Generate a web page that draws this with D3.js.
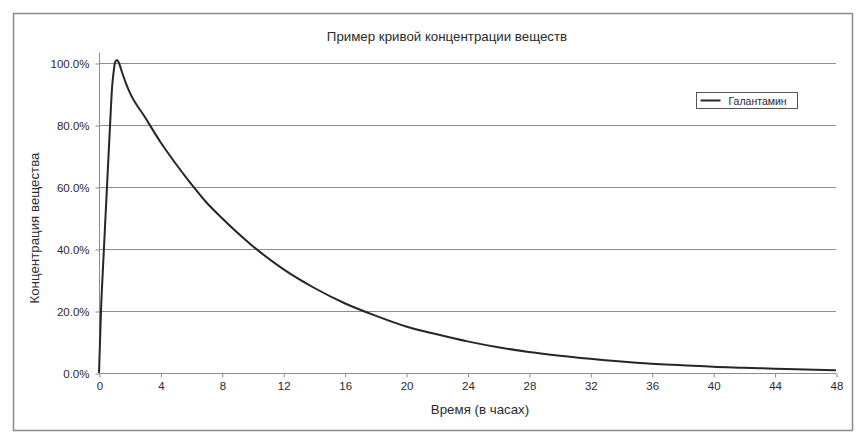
<!DOCTYPE html>
<html>
<head>
<meta charset="utf-8">
<script src="https://cdn.jsdelivr.net/npm/d3@7"></script>
<style>
  body { margin: 0; background: #fff; }
  svg { display: block; font-family: "Liberation Sans", Arial, sans-serif; }
</style>
</head>
<body>
<div id="chart"></div>
<script>
// data
let hours = [0, 0.13, 0.3, 0.5, 0.72, 0.85, 0.95, 1.05, 1.17, 1.3, 1.5, 1.75, 2, 3, 4, 5, 6, 7, 8, 10, 12, 14, 16, 18, 20, 22, 24, 26, 28, 30, 32, 34, 36, 38, 40, 42, 44, 46, 48];
let concentration = [0, 0.20, 0.38, 0.58, 0.80, 0.92, 0.97, 1.003, 1.01, 1.0, 0.97, 0.935, 0.905, 0.825, 0.745, 0.675, 0.61, 0.55, 0.50, 0.41, 0.335, 0.275, 0.225, 0.185, 0.15, 0.125, 0.102, 0.083, 0.068, 0.056, 0.046, 0.037, 0.030, 0.025, 0.020, 0.017, 0.014, 0.011, 0.009];
let xTicks = [0, 4, 8, 12, 16, 20, 24, 28, 32, 36, 40, 44, 48];
let yTicks = [0, 0.2, 0.4, 0.6, 0.8, 1.0];
let seriesName = "Галантамин";
let chartTitle = "Пример кривой концентрации веществ";
let xTitle = "Время (в часах)";
let yTitle = "Концентрация вещества";

// layout
let attrs = {
  width: 864,
  height: 440,
  left: 99,
  right: 836,
  top: 63,
  bottom: 373,
  axisTop: 52,
  lineColor: "#262626",
  gridColor: "#8c8c8c",
  textColor: "#2a2a2a",
};

let svg = d3
  .select("#chart")
  .append("svg")
  .attr("width", attrs.width)
  .attr("height", attrs.height);

// outer chart frame
svg
  .append("rect")
  .attr("x", 13.5)
  .attr("y", 13.5)
  .attr("width", 839)
  .attr("height", 417)
  .attr("fill", "#fff")
  .attr("stroke", "#8a8a8a")
  .attr("stroke-width", 1.5);

let x = d3.scaleLinear().domain([0, 48]).range([attrs.left, attrs.right]);
let y = d3.scaleLinear().domain([0, 1]).range([attrs.bottom, attrs.top]);

// horizontal grid lines
svg
  .append("g")
  .selectAll("line")
  .data(yTicks.slice(1))
  .enter()
  .append("line")
  .attr("x1", attrs.left)
  .attr("x2", attrs.right)
  .attr("y1", (d) => Math.round(y(d)) + 0.5)
  .attr("y2", (d) => Math.round(y(d)) + 0.5)
  .attr("stroke", attrs.gridColor)
  .attr("stroke-width", 1);

// y axis
let yAxis = svg
  .append("g")
  .attr("transform", "translate(" + (attrs.left + 0.5) + ",0.5)")
  .call(
    d3.axisLeft(y)
      .tickValues(yTicks)
      .tickFormat(d3.format(".1%"))
      .tickSize(4)
      .tickPadding(6)
  );
yAxis.select(".domain").attr("d", "M0," + attrs.axisTop + "V" + attrs.bottom);

// x axis
let xAxis = svg
  .append("g")
  .attr("transform", "translate(0.5," + (attrs.bottom + 0.5) + ")")
  .call(d3.axisBottom(x).tickValues(xTicks).tickSize(4).tickPadding(4));

[yAxis, xAxis].forEach((g) => {
  g.select(".domain").attr("stroke", attrs.gridColor);
  g.selectAll(".tick line").attr("stroke", attrs.gridColor);
  g.selectAll(".tick text")
    .attr("fill", attrs.textColor)
    .attr("font-size", 11.5)
    .attr("font-family", "Liberation Sans, Arial, sans-serif");
});
xAxis.select(".domain").attr("d", "M" + attrs.left + ",0H" + attrs.right);

// the curve
let line = d3
  .line()
  .x((d, i) => x(hours[i]))
  .y((d) => y(d))
  .curve(d3.curveMonotoneX);

svg
  .append("path")
  .datum(concentration)
  .attr("d", line)
  .attr("fill", "none")
  .attr("stroke", attrs.lineColor)
  .attr("stroke-width", 2)
  .attr("stroke-linejoin", "round");

// titles
svg
  .append("text")
  .attr("x", 447)
  .attr("y", 41)
  .attr("text-anchor", "middle")
  .attr("font-size", 13.3)
  .attr("fill", attrs.textColor)
  .text(chartTitle);

svg
  .append("text")
  .attr("x", 480)
  .attr("y", 414)
  .attr("text-anchor", "middle")
  .attr("font-size", 13.3)
  .attr("fill", attrs.textColor)
  .text(xTitle);

svg
  .append("text")
  .attr("transform", "translate(39,228) rotate(-90)")
  .attr("text-anchor", "middle")
  .attr("font-size", 13.3)
  .attr("fill", attrs.textColor)
  .text(yTitle);

// legend
let legend = svg.append("g").attr("transform", "translate(696.5,92.5)");
legend
  .append("rect")
  .attr("width", 101)
  .attr("height", 16)
  .attr("fill", "#fff")
  .attr("stroke", "#555")
  .attr("stroke-width", 1);
legend
  .append("line")
  .attr("x1", 4)
  .attr("x2", 24)
  .attr("y1", 8)
  .attr("y2", 8)
  .attr("stroke", attrs.lineColor)
  .attr("stroke-width", 2);
legend
  .append("text")
  .attr("x", 32)
  .attr("y", 12)
  .attr("font-size", 10.5)
  .attr("fill", attrs.textColor)
  .text(seriesName);
</script>
</body>
</html>
